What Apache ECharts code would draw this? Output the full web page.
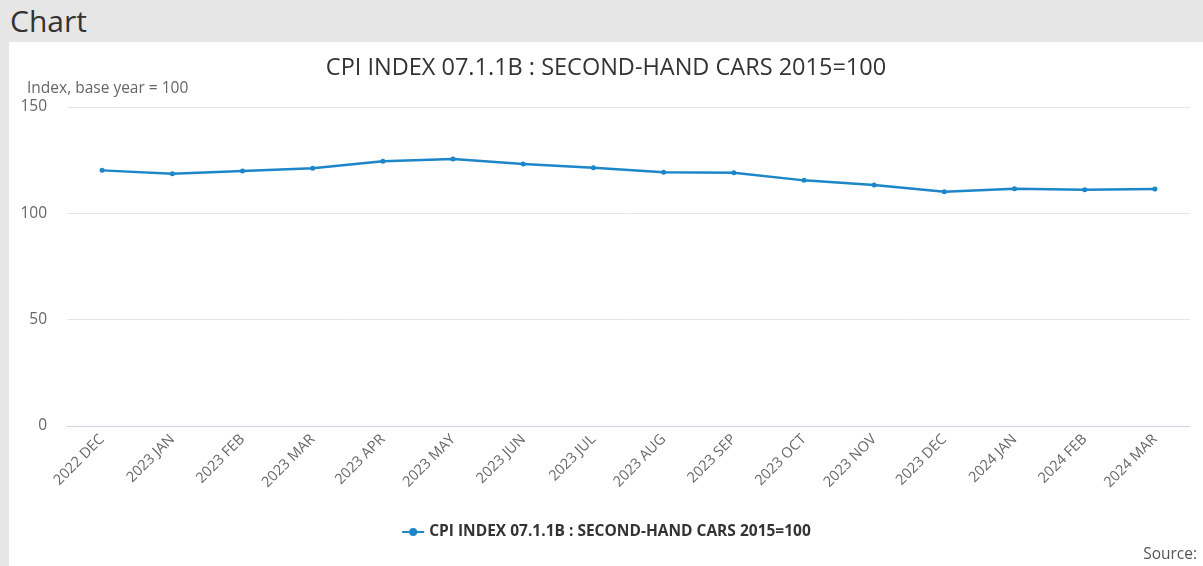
<!DOCTYPE html>
<html lang="en">
  <head>
    <meta charset="UTF-8" />
    <title>Chart</title>
    <script src="https://cdn.jsdelivr.net/npm/echarts@6/dist/echarts.min.js"></script>
  </head>
  <style>
    body,
    html {
      margin: 0;
      padding: 0;
      width: 1203px;
      height: 566px;
      overflow: hidden;
      background: #e6e6e6;
      font-family: "Open Sans", sans-serif;
    }
    #head {
      position: absolute;
      left: 10px;
      top: 0;
      height: 42px;
      line-height: 42px;
      font-size: 30px;
      color: #333;
    }
    #panel {
      position: absolute;
      left: 9px;
      top: 42px;
      width: 1194px;
      height: 524px;
      background: #fff;
    }
  </style>

  <body>
    <div id="head">Chart</div>
    <div id="panel"><div id="chart" style="width:100%;height:100%"></div></div>
  </body>
  <script>
    var months = [
      "2022 DEC", "2023 JAN", "2023 FEB", "2023 MAR", "2023 APR", "2023 MAY",
      "2023 JUN", "2023 JUL", "2023 AUG", "2023 SEP", "2023 OCT", "2023 NOV",
      "2023 DEC", "2024 JAN", "2024 FEB", "2024 MAR"
    ];
    var cpiValues = [
      120.2, 118.6, 119.9, 121.2, 124.5, 125.5, 123.2, 121.4,
      119.3, 119.1, 115.5, 113.3, 110.1, 111.6, 111.1, 111.4
    ];
    var seriesName = "CPI INDEX 07.1.1B : SECOND-HAND CARS 2015=100";
    var yTicks = { min: 0, max: 150, interval: 50 };

    var font = "Open Sans";
    var lineColor = "#1c86c8";

    var option = {
      animation: false,
      textStyle: { fontFamily: font },
      title: [
        {
          text: seriesName,
          left: "center",
          top: 9,
          textStyle: { fontSize: 23.5, fontWeight: "normal", color: "#333" }
        },
        {
          text: "Index, base year = 100",
          left: 13,
          top: 34,
          textStyle: { fontSize: 15.5, fontWeight: "normal", color: "#666" }
        },
        {
          text: "Source:",
          right: 1,
          bottom: -2,
          textStyle: { fontSize: 15.5, fontWeight: "normal", color: "#555" }
        }
      ],
      legend: {
        bottom: 21,
        left: "center",
        itemWidth: 22,
        itemHeight: 10,
        data: [seriesName],
        textStyle: { fontSize: 15.5, fontWeight: "bold", color: "#333" }
      },
      grid: { left: 58, right: 13, top: 65, bottom: 140 },
      xAxis: {
        type: "category",
        data: months,
        boundaryGap: true,
        axisLine: { lineStyle: { color: "#ccd6eb" } },
        axisTick: { alignWithLabel: true, length: 10, lineStyle: { color: "#ccd6eb" } },
        axisLabel: { rotate: 45, margin: 11, fontSize: 14.5, color: "#666" }
      },
      yAxis: {
        type: "value",
        min: yTicks.min,
        max: yTicks.max,
        interval: yTicks.interval,
        axisLine: { show: false },
        axisTick: { show: false },
        axisLabel: { margin: 20, fontSize: 15.5, color: "#666" },
        splitLine: { lineStyle: { color: "#e6e6e6" } }
      },
      series: [
        {
          name: seriesName,
          type: "line",
          data: cpiValues,
          symbol: "circle",
          symbolSize: 5,
          color: lineColor,
          lineStyle: { width: 2.5, color: lineColor },
          itemStyle: { color: lineColor }
        }
      ]
    };

    var chart = echarts.init(document.querySelector("#chart"));
    chart.setOption(option);
  </script>
</html>
